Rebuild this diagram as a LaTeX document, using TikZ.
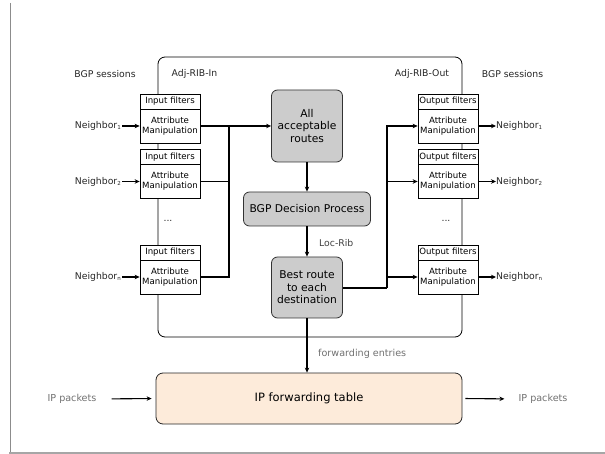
\documentclass[tikz,border=0pt]{standalone}
\usepackage{fontspec}
\setmainfont{DejaVu Sans}
\usetikzlibrary{arrows.meta}
\definecolor{peach}{HTML}{FDEBDA}
\definecolor{boxgray}{HTML}{CCCCCC}
\definecolor{txtgray}{HTML}{707070}
\newcommand{\nsub}[1]{\raisebox{-1.2pt}{\fontsize{5.5}{6}\selectfont #1}}
\begin{document}
\begin{tikzpicture}[x=1pt,y=-1pt,
 conn/.style={line width=1.1pt, draw=black},
 arr/.style={conn,-{Stealth[length=5pt,width=4.5pt]}},
 fhead/.style={draw, fill=white, line width=0.7pt, minimum width=60pt, minimum height=15pt, inner sep=0pt, font=\fontsize{8.6}{10}\selectfont},
 fbody/.style={draw, fill=white, line width=0.7pt, minimum width=60pt, minimum height=34pt, inner sep=0pt, align=center, font=\fontsize{8.6}{10}\selectfont},
 gbox/.style={draw=black!80, fill=boxgray, rounded corners=6pt, line width=0.8pt, align=center, inner sep=0pt, font=\fontsize{10.7}{12.5}\selectfont},
 lbl/.style={inner sep=0pt, font=\fontsize{9.3}{11}\selectfont, text=black!85},
 glbl/.style={inner sep=0pt, font=\fontsize{9.6}{11}\selectfont, text=txtgray},
]
\useasboundingbox (0,0) rectangle (605,454);
% frame
\draw[black!45, line width=0.8pt] (10,3) -- (10,452);
\draw[black!35, line width=2pt] (9,453) -- (605,453);

% router
\node[draw, rounded corners=7pt, line width=0.8pt, minimum width=304pt, minimum height=280pt, inner sep=0pt] (router) at (310,197) {};

% top labels
\node[lbl] (bgpl) at (105,74) {BGP sessions};
\node[lbl] (ribin) at (194.5,74) {Adj-RIB-In};
\node[lbl] (ribout) at (422,74) {Adj-RIB-Out};
\node[lbl] (bgpr) at (512.5,74) {BGP sessions};

% input filters
\node[fhead] (in1h) at (170,101.5) {Input filters};
\node[fbody] (in1b) at (170,126) {Attribute\\Manipulation};
\node[fhead] (in2h) at (170,157) {Input filters};
\node[fbody] (in2b) at (170,181.5) {Attribute\\Manipulation};
\node[fhead] (inNh) at (170,252.5) {Input filters};
\node[fbody] (inNb) at (170,277) {Attribute\\Manipulation};
\node[lbl] (ldots) at (168,221) {...};

% output filters
\node[fhead] (out1h) at (448,101.5) {Output filters};
\node[fbody] (out1b) at (448,126) {Attribute\\Manipulation};
\node[fhead] (out2h) at (448,157) {Output filters};
\node[fbody] (out2b) at (448,181.5) {Attribute\\Manipulation};
\node[fhead] (outNh) at (448,252.5) {Output filters};
\node[fbody] (outNb) at (448,277) {Attribute\\Manipulation};
\node[lbl] (rdots) at (446,221) {...};

% neighbors
\node[lbl, anchor=east] (nl1) at (121,126) {Neighbor\nsub{1}};
\node[lbl, anchor=east] (nl2) at (121,181.5) {Neighbor\nsub{2}};
\node[lbl, anchor=east] (nlN) at (121,277) {Neighbor\nsub{n}};
\node[lbl, anchor=west] (nr1) at (496,126) {Neighbor\nsub{1}};
\node[lbl, anchor=west] (nr2) at (496,181.5) {Neighbor\nsub{2}};
\node[lbl, anchor=west] (nrN) at (496,277) {Neighbor\nsub{n}};

\draw[arr, shorten <=1pt] (nl1.east) -- (in1b.west);
\draw[arr, shorten <=1pt] (nl2.east) -- (in2b.west);
\draw[arr, shorten <=1pt] (nlN.east) -- (inNb.west);
\draw[arr] (out1b.east) -- (nr1.west);
\draw[arr] (out2b.east) -- (nr2.west);
\draw[arr] (outNb.east) -- (nrN.west);

% central boxes
\node[gbox, minimum width=71pt, minimum height=72pt] (all) at (307,126) {All\\acceptable\\routes};
\node[gbox, minimum width=127pt, minimum height=34pt] (dec) at (307,209) {BGP Decision Process};
\node[gbox, minimum width=71pt, minimum height=61pt] (best) at (307,287.5) {Best route\\to each\\destination};

% left bus
\coordinate (lb) at (229,126);
\draw[arr] (in1b.east) -- (all.west);
\draw[conn] (in2b.east) -| (lb);
\draw[conn] (inNb.east) -| (lb);

% right bus
\coordinate (rb) at (387,288);
\draw[conn] (best.east |- rb) -- (rb);
\draw[arr] (rb) |- (out1b.west);
\draw[arr] (rb) |- (out2b.west);
\draw[arr] (rb) |- (outNb.west);

% vertical flow
\draw[arr] (all.south) -- (dec.north);
\draw[arr] (dec.south) -- (best.north);
\node[lbl, anchor=west, text=black!75] (locrib) at (319,243) {Loc-Rib};

% forwarding table
\node[draw=black!85, fill=peach, rounded corners=7pt, line width=0.8pt, minimum width=306pt, minimum height=51pt, inner sep=0pt, font=\fontsize{11.5}{13}\selectfont] (ip) at (309,398.5) {IP forwarding table};
\draw[arr] (best.south) -- (ip.north -| best.south);
\node[glbl, anchor=west] (fwd) at (318,354) {forwarding entries};

\node[glbl] (ipl) at (72,399) {IP packets};
\node[glbl] (ipr) at (543,399) {IP packets};
\draw[arr, shorten <=15pt, shorten >=4pt] (ipl.east) -- (ip.west);
\draw[arr, shorten <=3pt, shorten >=14pt] (ip.east) -- (ipr.west);
\end{tikzpicture}
\end{document}
